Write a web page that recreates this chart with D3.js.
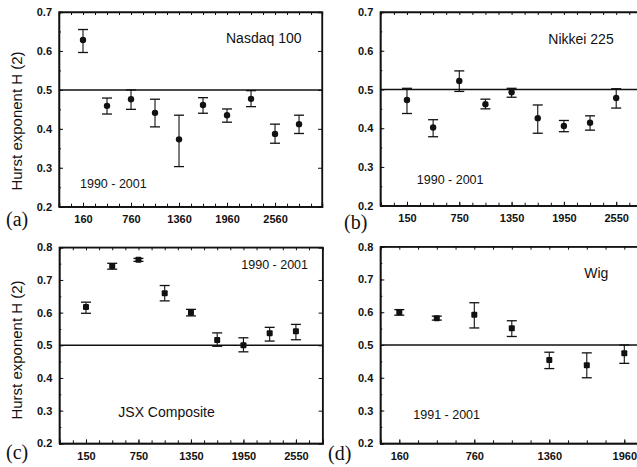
<!DOCTYPE html>
<html>
<head>
<meta charset="utf-8">
<script src="https://cdn.jsdelivr.net/npm/d3@7"></script>
<style>
  body { margin: 0; background: #fff; }
  svg { display: block; }
  .tick-label { font-family: "Liberation Sans", Arial, sans-serif; font-weight: bold; font-size: 11px; fill: #111; }
  .note { font-family: "Liberation Sans", Arial, sans-serif; font-size: 12.5px; fill: #111; }
  .name { font-family: "Liberation Sans", Arial, sans-serif; font-size: 14px; fill: #111; }
  .ylab { font-family: "Liberation Sans", Arial, sans-serif; font-size: 15px; fill: #111; }
  .plabel { font-family: "Liberation Serif", "Times New Roman", serif; font-size: 20px; fill: #111; }
</style>
</head>
<body>
<svg id="chart" width="637" height="467"></svg>
<script>
// (a) Nasdaq 100
var nasdaqLag = [160, 460, 760, 1060, 1360, 1660, 1960, 2260, 2560, 2860]
var nasdaqH   = [0.628, 0.459, 0.476, 0.441, 0.373, 0.461, 0.435, 0.477, 0.387, 0.412]
var nasdaqLo  = [0.596, 0.438, 0.450, 0.405, 0.303, 0.440, 0.417, 0.457, 0.363, 0.388]
var nasdaqHi  = [0.655, 0.479, 0.500, 0.476, 0.435, 0.480, 0.451, 0.498, 0.412, 0.435]
var nasdaqTicks = [160, 760, 1360, 1960, 2560]

// (b) Nikkei 225
var nikkeiLag = [150, 450, 750, 1050, 1350, 1650, 1950, 2250, 2550]
var nikkeiH   = [0.473, 0.402, 0.522, 0.462, 0.493, 0.426, 0.406, 0.414, 0.478]
var nikkeiLo  = [0.438, 0.378, 0.495, 0.450, 0.480, 0.387, 0.391, 0.395, 0.452]
var nikkeiHi  = [0.503, 0.422, 0.548, 0.475, 0.503, 0.460, 0.420, 0.432, 0.502]
var nikkeiTicks = [150, 750, 1350, 1950, 2550]

// (c) JSX Composite
var jsxLag = [150, 450, 750, 1050, 1350, 1650, 1950, 2250, 2550]
var jsxH   = [0.617, 0.743, 0.762, 0.659, 0.600, 0.516, 0.500, 0.537, 0.543]
var jsxLo  = [0.598, 0.733, 0.757, 0.636, 0.590, 0.497, 0.480, 0.513, 0.517]
var jsxHi  = [0.632, 0.751, 0.766, 0.683, 0.610, 0.538, 0.523, 0.555, 0.564]
var jsxTicks = [150, 750, 1350, 1950, 2550]

// (d) Wig
var wigLag = [160, 460, 760, 1060, 1360, 1660, 1960]
var wigH   = [0.600, 0.582, 0.592, 0.551, 0.454, 0.438, 0.475]
var wigLo  = [0.591, 0.576, 0.552, 0.526, 0.428, 0.400, 0.444]
var wigHi  = [0.608, 0.588, 0.629, 0.574, 0.478, 0.476, 0.500]
var wigTicks = [160, 760, 1360, 1960]

var yTicksTop = [0.2, 0.3, 0.4, 0.5, 0.6, 0.7]
var yTicksBottom = [0.2, 0.3, 0.4, 0.5, 0.6, 0.7, 0.8]

var svg = d3.select('#chart')

function drawPanel(p) {
	var g = svg.append('g').attr('transform', 'translate(' + p.left + ',' + p.top + ')')

	var x = d3.scaleLinear().domain(p.xDomain).range([0, p.width])
	var y = d3.scaleLinear().domain(p.yDomain).range([p.height, 0])

	// minor ticks every 150 on x, every 0.05 on y
	var xMinor = d3.range(p.xStart - 150 * 3, p.xDomain[1], 150).filter(function(v) { return v > p.xDomain[0] })
	var yMinor = d3.range(p.yDomain[0], p.yDomain[1] + 0.001, 0.05)

	// bottom axis (ticks pointing inward)
	g.append('g')
		.attr('transform', 'translate(0,' + p.height + ')')
		.call(d3.axisBottom(x).tickValues(xMinor).tickSize(-3).tickFormat(''))
	g.append('g')
		.attr('transform', 'translate(0,' + p.height + ')')
		.call(d3.axisBottom(x).tickValues(p.xTicks).tickSize(-4).tickPadding(9).tickFormat(d3.format('d')))
		.call(function(s) { s.selectAll('text').attr('class', 'tick-label').attr('fill', null) })
	// top axis
	g.append('g')
		.call(d3.axisTop(x).tickValues(xMinor).tickSize(-3).tickFormat(''))
	// left axis
	g.append('g')
		.call(d3.axisLeft(y).tickValues(yMinor).tickSize(-2).tickFormat(''))
	g.append('g')
		.call(d3.axisLeft(y).tickValues(p.yTicks).tickSize(-4).tickPadding(7).tickFormat(d3.format('.1f')))
		.call(function(s) { s.selectAll('text').attr('class', 'tick-label').attr('fill', null) })
	// right axis
	g.append('g')
		.attr('transform', 'translate(' + p.width + ',0)')
		.call(d3.axisRight(y).tickValues(p.yTicks).tickSize(-4).tickFormat(''))

	g.selectAll('.domain').attr('stroke', '#111').attr('stroke-width', 1.3)
	g.selectAll('.tick line').attr('stroke', '#111').attr('stroke-width', 1)

	// frame
	g.append('rect')
		.attr('width', p.width).attr('height', p.height)
		.attr('fill', 'none').attr('stroke', '#111').attr('stroke-width', 1.3)

	// H = 0.5 reference line
	g.append('line')
		.attr('x1', 0).attr('x2', p.width)
		.attr('y1', y(0.5)).attr('y2', y(0.5))
		.attr('stroke', '#111').attr('stroke-width', 1.5)

	var data = p.lag.map(function(v, i) { return {x: v, h: p.h[i], lo: p.lo[i], hi: p.hi[i]} })

	var bars = g.selectAll('.err').data(data).enter().append('g')
	bars.append('line')
		.attr('x1', function(d) { return x(d.x) }).attr('x2', function(d) { return x(d.x) })
		.attr('y1', function(d) { return y(d.lo) }).attr('y2', function(d) { return y(d.hi) })
		.attr('stroke', '#111').attr('stroke-width', 1.1)
	bars.append('line')
		.attr('x1', function(d) { return x(d.x) - 5 }).attr('x2', function(d) { return x(d.x) + 5 })
		.attr('y1', function(d) { return y(d.hi) }).attr('y2', function(d) { return y(d.hi) })
		.attr('stroke', '#111').attr('stroke-width', 1.3)
	bars.append('line')
		.attr('x1', function(d) { return x(d.x) - 5 }).attr('x2', function(d) { return x(d.x) + 5 })
		.attr('y1', function(d) { return y(d.lo) }).attr('y2', function(d) { return y(d.lo) })
		.attr('stroke', '#111').attr('stroke-width', 1.3)

	if (p.square) {
		bars.append('rect')
			.attr('x', function(d) { return x(d.x) - 3 }).attr('y', function(d) { return y(d.h) - 3 })
			.attr('width', 6).attr('height', 6).attr('rx', 1)
			.attr('fill', '#111')
	} else {
		bars.append('circle')
			.attr('cx', function(d) { return x(d.x) }).attr('cy', function(d) { return y(d.h) })
			.attr('r', 3.2).attr('fill', '#111')
	}

	g.append('text').attr('class', 'name')
		.attr('x', p.name.x).attr('y', p.name.y).text(p.name.text)
	g.append('text').attr('class', 'note')
		.attr('x', p.period.x).attr('y', p.period.y).text(p.period.text)

	if (p.ylabelY) {
		svg.append('text').attr('class', 'ylab')
			.attr('transform', 'translate(22,' + p.ylabelY + ') rotate(-90)')
			.attr('text-anchor', 'middle')
			.text('Hurst exponent H (2)')
	}
	svg.append('text').attr('class', 'plabel')
		.attr('x', p.labelX).attr('y', p.labelY).text(p.label)
}

drawPanel({
	left: 59, top: 12, width: 263, height: 194.7,
	xDomain: [-140, 3147], yDomain: [0.2, 0.7], xStart: 160,
	xTicks: nasdaqTicks, yTicks: yTicksTop,
	lag: nasdaqLag, h: nasdaqH, lo: nasdaqLo, hi: nasdaqHi,
	name: {x: 167, y: 31, text: 'Nasdaq 100'},
	period: {x: 21, y: 175.5, text: '1990 - 2001'},
	ylabelY: 121, label: '(a)', labelX: 6, labelY: 226
})

drawPanel({
	left: 380.3, top: 12, width: 262.5, height: 193.7,
	xDomain: [-156, 2855], yDomain: [0.2, 0.7], xStart: 150,
	xTicks: nikkeiTicks, yTicks: yTicksTop,
	lag: nikkeiLag, h: nikkeiH, lo: nikkeiLo, hi: nikkeiHi,
	name: {x: 168, y: 32, text: 'Nikkei 225'},
	period: {x: 36.5, y: 171.5, text: '1990 - 2001'},
	label: '(b)', labelX: 344, labelY: 229
})

drawPanel({
	left: 59.3, top: 247.3, width: 263.3, height: 196,
	xDomain: [-155, 2855], yDomain: [0.2, 0.8], xStart: 150,
	xTicks: jsxTicks, yTicks: yTicksBottom,
	lag: jsxLag, h: jsxH, lo: jsxLo, hi: jsxHi,
	name: {x: 59, y: 170, text: 'JSX Composite'},
	period: {x: 182, y: 22, text: '1990 - 2001'},
	square: true,
	ylabelY: 350, label: '(c)', labelX: 6, labelY: 459
})

drawPanel({
	left: 380.3, top: 246.7, width: 262.5, height: 196.6,
	xDomain: [8, 2108], yDomain: [0.2, 0.8], xStart: 160,
	xTicks: wigTicks, yTicks: yTicksBottom,
	lag: wigLag, h: wigH, lo: wigLo, hi: wigHi,
	name: {x: 204, y: 31, text: 'Wig'},
	period: {x: 33, y: 172.5, text: '1991 - 2001'},
	square: true,
	label: '(d)', labelX: 328, labelY: 460
})
</script>
</body>
</html>
